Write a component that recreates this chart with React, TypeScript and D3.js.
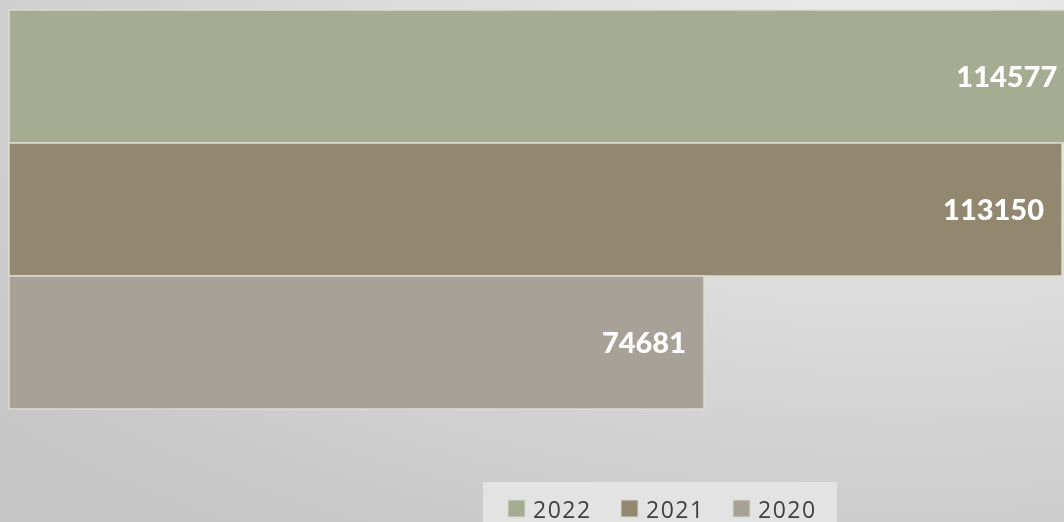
import React from "react";
import * as d3 from "d3";

// series, top to bottom
const years = ["2022", "2021", "2020"];
const values = [114577, 113150, 74681];
const legendOrder = ["2022", "2021", "2020"];

const colors: Record<string, string> = {
  "2022": "#a6ac92",
  "2021": "#92876f",
  "2020": "#a8a197",
};

const W = 1064;
const H = 522;
const margin = { top: 10, left: 9 };
const plotH = 399;

const App: React.FC = () => {
  const svgRef = React.useRef<SVGSVGElement>(null);

  React.useEffect(() => {
    const svgEl = d3.select(svgRef.current);
    svgEl.selectAll("*").remove();

    const defs = svgEl.append("defs");
    const grad = defs
      .append("radialGradient")
      .attr("id", "bg")
      .attr("cx", "85%")
      .attr("cy", "10%")
      .attr("r", "110%");
    grad.append("stop").attr("offset", "0%").attr("stop-color", "#ececec");
    grad.append("stop").attr("offset", "100%").attr("stop-color", "#c6c6c6");

    svgEl.append("rect").attr("width", W).attr("height", H).attr("fill", "url(#bg)");

    // x scale fitted so that 113150 lands at the right edge
    const xScale = d3.scaleLinear().domain([0, 113150]).range([0, 1053]);

    const yScale = d3
      .scaleBand<string>()
      .domain(years)
      .range([0, plotH])
      .padding(0);

    const g = svgEl
      .append("g")
      .attr("transform", `translate(${margin.left},${margin.top})`);

    g.selectAll(".bar")
      .data(years)
      .join("rect")
      .attr("class", "bar")
      .attr("x", 0)
      .attr("y", (d) => yScale(d)!)
      .attr("width", (d, i) => xScale(values[i]))
      .attr("height", yScale.bandwidth())
      .attr("fill", (d) => colors[d])
      .attr("stroke", "#dcdcd2")
      .attr("stroke-width", 1.5);

    g.selectAll(".lbl")
      .data(years)
      .join("text")
      .attr("class", "lbl")
      .attr("x", (d, i) => xScale(values[i]) - 18)
      .attr("y", (d) => yScale(d)! + yScale.bandwidth() / 2)
      .attr("dy", "0.36em")
      .attr("text-anchor", "end")
      .attr("fill", "#ffffff")
      .attr("font-family", "Lato, 'Open Sans', sans-serif")
      .attr("font-weight", "900")
      .attr("font-size", "29px")
      .text((d, i) => String(values[i]));

    // legend
    const leg = svgEl.append("g");
    leg
      .append("rect")
      .attr("x", 483)
      .attr("y", 482)
      .attr("width", 354)
      .attr("height", 50)
      .attr("fill", "#e3e3e3");

    const legX = d3.scaleOrdinal<string, number>().domain(legendOrder).range([508, 621, 733]);

    const items = leg
      .selectAll(".item")
      .data(legendOrder)
      .join("g")
      .attr("class", "item")
      .attr("transform", (d) => `translate(${legX(d)},0)`);

    items
      .append("rect")
      .attr("x", 0)
      .attr("y", 500)
      .attr("width", 17)
      .attr("height", 17)
      .attr("fill", (d) => colors[d])
      .attr("stroke", "#d8d8d0")
      .attr("stroke-width", 1);

    items
      .append("text")
      .attr("x", 25)
      .attr("y", 518)
      .attr("fill", "#404040")
      .attr("font-family", "'Open Sans', sans-serif")
      .attr("font-size", "23px")
      .attr("letter-spacing", "1.5px")
      .text((d) => d);
  }, []);

  return (
    <div style={{ position: "fixed", left: 0, top: 0, width: W, height: H }}>
      <svg ref={svgRef} width={W} height={H} style={{ display: "block" }} />
    </div>
  );
};

export default App;
